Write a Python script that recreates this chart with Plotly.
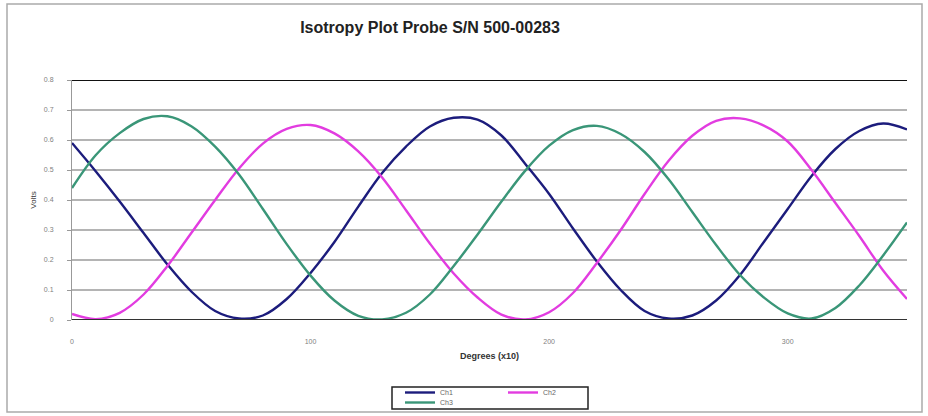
import plotly.graph_objects as go

# ---- data ----
degrees = list(range(0, 351, 10))
ch1 = [0.59, 0.495, 0.395, 0.29, 0.185, 0.095, 0.03, 0.005, 0.015, 0.07,
       0.157, 0.26, 0.378, 0.49, 0.578, 0.645, 0.674, 0.668, 0.615, 0.52,
       0.42, 0.305, 0.195, 0.10, 0.03, 0.005, 0.015, 0.065, 0.15, 0.26,
       0.37, 0.48, 0.57, 0.63, 0.655, 0.635]
ch2 = [0.02, 0.003, 0.024, 0.085, 0.18, 0.29, 0.40, 0.505, 0.588, 0.637,
       0.650, 0.622, 0.562, 0.475, 0.366, 0.255, 0.155, 0.075, 0.018, 0.002,
       0.026, 0.09, 0.19, 0.30, 0.42, 0.53, 0.614, 0.664, 0.672, 0.648,
       0.595, 0.50, 0.39, 0.28, 0.165, 0.07]
ch3 = [0.44, 0.55, 0.623, 0.67, 0.679, 0.646, 0.578, 0.485, 0.37, 0.253,
       0.148, 0.065, 0.014, 0.002, 0.024, 0.085, 0.18, 0.285, 0.395, 0.498,
       0.581, 0.633, 0.647, 0.62, 0.56, 0.47, 0.36, 0.25, 0.15, 0.075,
       0.022, 0.005, 0.04, 0.115, 0.215, 0.325]
series_names = ["Ch1", "Ch2", "Ch3"]
x_ticks = [0, 100, 200, 300]
y_ticks = [0, 0.1, 0.2, 0.3, 0.4, 0.5, 0.6, 0.7, 0.8]
y_tick_labels = ["0", "0.1", "0.2", "0.3", "0.4", "0.5", "0.6", "0.7", "0.8"]
bold_lines = [0.5, 0.8]

title = "Isotropy Plot Probe S/N 500-00283"
x_title = "Degrees (x10)"
y_title = "Volts"

colors = ["#1c1c7c", "#e23ce0", "#3a9678"]

W, H = 928, 416
ML, MR, MT, MB = 72, 21, 80, 96
pw, ph = W - ML - MR, H - MT - MB


def px_x(p):
    return (p - ML) / pw


def px_y(p):
    return (H - MB - p) / ph


fig = go.Figure()
legends = ["legend", "legend", "legend2"]
for name, vals, col, lg in zip(series_names, [ch1, ch2, ch3], colors, legends):
    fig.add_trace(go.Scatter(x=degrees, y=vals, mode="lines", name=name,
                             line=dict(color=col, width=2.4, shape="spline", smoothing=1.0),
                             legend=lg))

for yv in bold_lines:
    fig.add_hline(y=yv, line=dict(color="#111111", width=2), layer="below")

fig.update_layout(
    width=W, height=H,
    margin=dict(l=ML, r=MR, t=MT, b=MB, autoexpand=False),
    paper_bgcolor="white", plot_bgcolor="white",
    font=dict(family="Liberation Sans, Arial, sans-serif", color="#555555"),
    title=dict(text="<b>" + title + "</b>", x=430 / W, xanchor="center",
               y=1 - 27 / H, yanchor="middle",
               font=dict(size=16, color="#222222")),
    xaxis=dict(range=[0, 350], tickmode="array", tickvals=x_ticks,
               ticktext=[str(t) for t in x_ticks],
               showgrid=False, zeroline=False, showline=False,
               ticks="", ticklabelstandoff=16, automargin=False,
               tickfont=dict(size=7, color="#808080"),
               title=dict(text="<b>" + x_title + "</b>", standoff=8,
                          font=dict(size=9, color="#333333"))),
    yaxis=dict(range=[0, 0.8], tickmode="array", tickvals=y_ticks,
               ticktext=y_tick_labels, automargin=False,
               showgrid=True, gridcolor="#b4b4b4", gridwidth=1.5,
               zeroline=False, showline=True, linecolor="#999999", linewidth=1,
               ticks="outside", ticklen=4, tickcolor="#999999",
               ticklabelstandoff=12,
               tickfont=dict(size=7, color="#808080"),
               title=dict(text=y_title, standoff=6,
                          font=dict(size=8, color="#333333"))),
    legend=dict(orientation="h", x=px_x(400), y=px_y(378), xanchor="left", yanchor="top",
                entrywidth=58, entrywidthmode="pixels",
                font=dict(size=7, color="#666666"), bgcolor="rgba(0,0,0,0)",
                itemwidth=30, tracegroupgap=0),
    legend2=dict(orientation="h", x=px_x(400), y=px_y(388), xanchor="left", yanchor="top",
                 font=dict(size=7, color="#666666"), bgcolor="rgba(0,0,0,0)",
                 itemwidth=30),
    showlegend=True,
)

# x-axis baseline (dark)
fig.add_hline(y=0, line=dict(color="#333333", width=2))

# legend box
fig.add_shape(type="rect", xref="paper", yref="paper",
              x0=px_x(392), x1=px_x(588), y0=px_y(409), y1=px_y(387),
              line=dict(color="#222222", width=1.5))
# outer chart frame
fig.add_shape(type="rect", xref="paper", yref="paper",
              x0=px_x(7), x1=px_x(922), y0=px_y(412), y1=px_y(4),
              line=dict(color="#aaaaaa", width=1.5))

fig.write_html("out.html", config={"displayModeBar": False},
               post_script="document.body.style.margin='0';document.body.style.overflow='hidden';")
